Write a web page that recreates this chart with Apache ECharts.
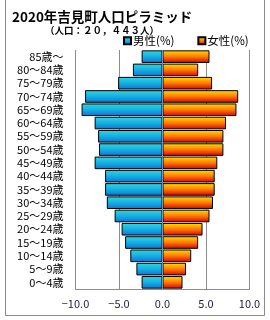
<!DOCTYPE html>
<html>
<head>
<meta charset="utf-8">
<style>
  html, body { margin: 0; padding: 0; background: #fff; }
  #chart { width: 270px; height: 320px; }
</style>
<script src="https://cdn.jsdelivr.net/npm/echarts@6/dist/echarts.min.js"></script>
</head>
<body>
<div id="chart"></div>
<script>
// 年齢階級（上から）
var ageGroups = ['85歳～', '80～84歳', '75～79歳', '70～74歳', '65～69歳', '60～64歳',
    '55～59歳', '50～54歳', '45～49歳', '40～44歳', '35～39歳', '30～34歳',
    '25～29歳', '20～24歳', '15～19歳', '10～14歳', '5～9歳', '0～4歳'];
// 男性（%）
var maleValues = [2.4, 3.4, 5.1, 8.9, 9.3, 7.8, 7.4, 7.3, 7.8, 6.6, 6.6, 6.4,
    5.5, 4.7, 4.3, 3.7, 3.0, 2.4];
// 女性（%）
var femaleValues = [5.4, 4.1, 5.7, 8.7, 8.5, 7.3, 7.0, 7.0, 6.3, 6.0, 6.0, 5.8,
    5.4, 4.6, 4.1, 3.3, 2.7, 2.3];

var font = 'Noto Sans CJK JP';
var chart = echarts.init(document.getElementById('chart'));

var maleColor = new echarts.graphic.LinearGradient(0, 0, 0, 1, [
    {offset: 0, color: '#38d4dc'},
    {offset: 0.5, color: '#12b0e4'},
    {offset: 1, color: '#1470d0'}
]);
var femaleColor = new echarts.graphic.LinearGradient(0, 0, 0, 1, [
    {offset: 0, color: '#ffe000'},
    {offset: 0.5, color: '#ff7a00'},
    {offset: 1, color: '#d80000'}
]);

var option = {
    animation: false,
    textStyle: {fontFamily: font},
    title: [
        {
            text: '2020年吉見町人口ピラミッド',
            left: 7, top: 5,
            textStyle: {fontSize: 13.5, fontWeight: 'bold', color: '#000', fontFamily: font}
        },
        {
            text: '（人口：２０，４４３人）',
            left: 40, top: 21,
            textStyle: {fontSize: 9.5, fontWeight: 'bold', color: '#000', fontFamily: font}
        }
    ],
    legend: {
        top: 30,
        left: 118,
        itemWidth: 7,
        itemHeight: 7,
        itemGap: 23,
        icon: 'rect',
        textStyle: {fontSize: 11.5, color: '#000', padding: [0, 0, 0, -3]},
        data: ['男性(%)', '女性(%)']
    },
    grid: {left: 75.5, right: 20.5, top: 50, bottom: 31},
    xAxis: {
        type: 'value',
        min: -10, max: 10, interval: 5,
        axisLine: {show: true, lineStyle: {color: '#8c8c8c'}},
        axisTick: {show: false},
        splitLine: {lineStyle: {color: '#8c8c8c', width: 1}},
        axisLabel: {
            fontSize: 11, color: '#1c1c40', margin: 9,
            formatter: function (v) { return v.toFixed(1).replace('-', '−'); }
        }
    },
    yAxis: {
        type: 'category',
        data: ageGroups,
        inverse: true,
        axisLine: {show: false},
        axisTick: {show: false},
        axisLabel: {interval: 0, fontSize: 11, color: '#000', margin: 12}
    },
    series: [
        {
            name: '男性(%)',
            type: 'bar',
            data: maleValues.map(function (v) { return -v; }),
            barCategoryGap: '5%',
            barGap: '-100%',
            itemStyle: {color: maleColor, borderColor: '#000', borderWidth: 1},
            markLine: {
                silent: true,
                symbol: 'none',
                label: {show: false},
                lineStyle: {color: '#7096b4', type: 'solid', width: 1},
                data: [{xAxis: 0}]
            }
        },
        {
            name: '女性(%)',
            type: 'bar',
            data: femaleValues,
            barCategoryGap: '5%',
            barGap: '-100%',
            itemStyle: {color: femaleColor, borderColor: '#000', borderWidth: 1}
        }
    ],
    graphic: [
        {
            type: 'polyline',
            shape: {points: [[5.5, 0], [5.5, 315.5], [264.5, 315.5], [264.5, 0]]},
            style: {stroke: '#8c8c8c', fill: null, lineWidth: 1}
        }
    ]
};

chart.setOption(option);
</script>
</body>
</html>
